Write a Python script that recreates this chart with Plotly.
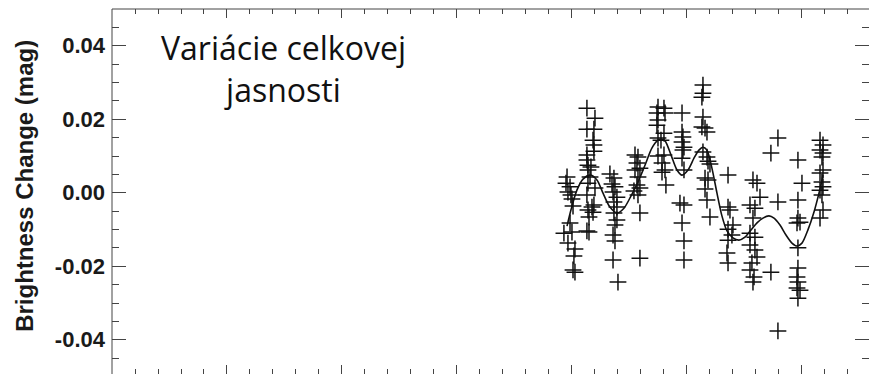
import plotly.graph_objects as go

# Observed brightness changes (x in major-tick units of the time axis, y in mag)
obs_x = [3.957, 3.948, 3.983, 3.965, 3.991, 4.000, 4.009, 3.983, 3.930, 4.000, 3.965, 4.026, 4.017, 4.009, 4.026,
         4.130, 4.200, 4.130, 4.191, 4.183, 4.191, 4.191, 4.130, 4.130, 4.139, 4.165, 4.139, 4.157, 4.139, 4.200,
         4.130, 4.191, 4.174, 4.139, 4.183, 4.148, 4.130, 4.148,
         4.330, 4.365, 4.348, 4.374, 4.357, 4.391, 4.365, 4.391, 4.365, 4.391, 4.374, 4.357, 4.374, 4.357, 4.400,
         4.548, 4.574, 4.565, 4.591, 4.548, 4.574, 4.565, 4.591, 4.539, 4.574, 4.591, 4.591,
         4.748, 4.800, 4.739, 4.809, 4.748, 4.739, 4.800, 4.748, 4.774, 4.800, 4.748, 4.783, 4.809, 4.783, 4.817,
         4.957, 4.957, 4.965, 4.957, 4.974, 4.965, 4.957, 4.974, 4.939, 4.974, 4.957, 4.974, 4.974,
         5.139, 5.139, 5.130, 5.139, 5.130, 5.157, 5.174, 5.139, 5.174, 5.183, 5.200, 5.157, 5.183, 5.157, 5.174, 5.200,
         5.357, 5.357, 5.374, 5.400, 5.357, 5.391, 5.357, 5.348, 5.357,
         5.574, 5.609, 5.635, 5.548, 5.591, 5.574, 5.548, 5.591, 5.548, 5.591, 5.609, 5.565, 5.548, 5.583, 5.574,
         5.791, 5.730, 5.791, 5.730, 5.791,
         5.965, 6.000, 5.965, 5.965, 5.983, 5.957, 5.965, 5.965, 5.957, 5.965, 5.957, 5.983, 5.965,
         6.157, 6.183, 6.157, 6.183, 6.174, 6.183, 6.157, 6.174, 6.183, 6.157, 6.174, 6.183, 6.157]
obs_y = [0.0043, 0.0026, 0.0016, 0.0002, -0.0006, -0.0017, -0.0036, -0.0082, -0.0110, -0.0107, -0.0137, -0.0153, -0.0172, -0.0210, -0.0216,
         0.0230, 0.0203, 0.0173, 0.0173, 0.0143, 0.0130, 0.0113, 0.0103, 0.0089, 0.0075, 0.0070, 0.0062, 0.0043, 0.0026, 0.0013,
         -0.0006, -0.0033, -0.0039, -0.0047, -0.0053, -0.0066, -0.0104, -0.0107,
         0.0051, 0.0040, 0.0024, 0.0016, 0.0002, -0.0012, -0.0025, -0.0039, -0.0055, -0.0074, -0.0088, -0.0115, -0.0131, -0.0183, -0.0243,
         0.0103, 0.0097, 0.0081, 0.0067, 0.0062, 0.0043, 0.0021, 0.0013, 0.0005, -0.0006, -0.0055, -0.0178,
         0.0233, 0.0230, 0.0217, 0.0217, 0.0198, 0.0184, 0.0162, 0.0149, 0.0143, 0.0103, 0.0100, 0.0081, 0.0062, 0.0056, 0.0021,
         0.0217, 0.0165, 0.0152, 0.0138, 0.0124, 0.0116, 0.0094, 0.0062, -0.0028, -0.0033, -0.0082, -0.0131, -0.0183,
         0.0293, 0.0271, 0.0260, 0.0206, 0.0179, 0.0176, 0.0165, 0.0111, 0.0097, 0.0086, 0.0078, 0.0040, 0.0035, 0.0010, -0.0020, -0.0066,
         0.0048, -0.0039, -0.0047, -0.0088, -0.0099, -0.0115, -0.0129, -0.0164, -0.0191,
         0.0035, 0.0026, -0.0012, -0.0033, -0.0042, -0.0069, -0.0110, -0.0121, -0.0142, -0.0156, -0.0175, -0.0191, -0.0210, -0.0229, -0.0243,
         0.0149, 0.0108, -0.0025, -0.0216, -0.0376,
         0.0089, 0.0026, -0.0020, -0.0069, -0.0080, -0.0082, -0.0150, -0.0205, -0.0229, -0.0243, -0.0259, -0.0265, -0.0287,
         0.0143, 0.0130, 0.0116, 0.0108, 0.0097, 0.0062, 0.0054, 0.0029, 0.0016, 0.0007, -0.0006, -0.0047, -0.0069]

# Fitted model curve
fit_x = [3.957, 3.991, 4.043, 4.096, 4.157, 4.217, 4.270, 4.330, 4.391, 4.452, 4.513, 4.574, 4.635, 4.696,
         4.748, 4.774, 4.809, 4.861, 4.913, 4.957, 5.009, 5.061, 5.104, 5.139, 5.174, 5.217, 5.261, 5.304,
         5.348, 5.400, 5.452, 5.504, 5.557, 5.609, 5.661, 5.713, 5.757, 5.809, 5.861, 5.913, 5.957, 6.000,
         6.052, 6.104, 6.148, 6.183]
fit_y = [-0.0091, -0.0047, 0.0007, 0.0037, 0.0048, 0.0035, -0.0001, -0.0039, -0.0055, -0.0042, -0.0009, 0.0029, 0.0075, 0.0122,
         0.0143, 0.0146, 0.0141, 0.0103, 0.0062, 0.0048, 0.0062, 0.0094, 0.0116, 0.0124, 0.0116, 0.0067, -0.0001, -0.0063,
         -0.0104, -0.0123, -0.0129, -0.0121, -0.0101, -0.0082, -0.0069, -0.0063, -0.0069, -0.0088, -0.0115, -0.0137, -0.0145, -0.0137,
         -0.0101, -0.0053, -0.0001, 0.0048]

y_tickvals = [0.04, 0.02, 0.0, -0.02, -0.04]
y_ticktext = ["0.04", "0.02", "0.00", "-0.02", "-0.04"]
y_title = "Brightness Change (mag)"
note_text = "Variácie celkovej<br>jasnosti"

fig = go.Figure()
fig.add_trace(go.Scatter(
    x=obs_x, y=obs_y, mode="markers",
    marker=dict(symbol="cross-thin", size=12, color="#111", line=dict(width=1.5, color="#111")),
    showlegend=False, hoverinfo="skip"))
fig.add_trace(go.Scatter(
    x=fit_x, y=fit_y, mode="lines", line=dict(color="#111", width=1.6, shape="spline", smoothing=0.8),
    showlegend=False, hoverinfo="skip"))

frame = dict(color="#444", width=1)
fig.update_layout(
    width=869, height=374,
    margin=dict(l=112, r=0, t=9, b=0),
    paper_bgcolor="white", plot_bgcolor="white",
    xaxis=dict(range=[0, 6.583], showgrid=False, zeroline=False, showline=False,
               mirror="ticks", ticks="inside", ticklen=9, tickcolor="#444", tickwidth=1,
               tickmode="linear", tick0=0, dtick=1, showticklabels=False,
               minor=dict(ticks="inside", ticklen=5, tickcolor="#444", tickwidth=1, tickmode="linear", tick0=0, dtick=0.2)),
    yaxis=dict(range=[-0.04932, 0.05], showgrid=False, zeroline=False, showline=False,
               mirror="ticks", ticks="inside", ticklen=14, tickcolor="#444", tickwidth=1,
               tickmode="array", tickvals=y_tickvals, ticktext=y_ticktext, ticklabelstandoff=6,
               tickfont=dict(family="Liberation Sans, Arial", size=22, weight="bold", color="#1a1a1a"),
               minor=dict(ticks="inside", ticklen=7, tickcolor="#444", tickwidth=1, tickmode="linear", tick0=0, dtick=0.005)),
    shapes=[
        dict(type="line", xref="paper", yref="paper", x0=0, x1=0, y0=0, y1=1, line=frame, layer="above"),
        dict(type="line", xref="paper", yref="paper", x0=0, x1=1, y0=1, y1=1, line=frame, layer="above"),
    ],
    annotations=[
        dict(text=y_title, textangle=-90, xref="paper", yref="paper", x=-0.1165, y=0.515,
             xanchor="center", yanchor="middle", showarrow=False,
             font=dict(family="Liberation Sans, Arial", size=24, weight="bold", color="#1a1a1a")),
        dict(text=note_text, xref="paper", yref="paper", x=0.2272, y=0.958,
             xanchor="center", yanchor="top", showarrow=False, align="center",
             font=dict(family="Open Sans", size=32, color="#111")),
    ],
)

fig.write_html("out.html")
